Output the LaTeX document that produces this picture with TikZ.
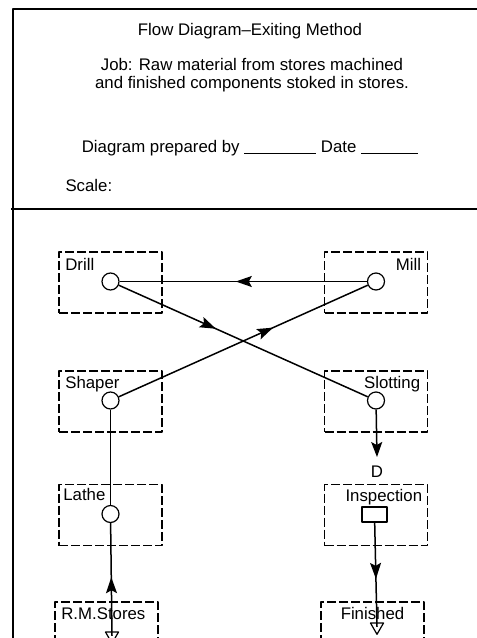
\documentclass[tikz,border=0pt]{standalone}
\usepackage{fontspec}
\setmainfont{Liberation Sans}
\usetikzlibrary{arrows.meta,decorations.markings,shapes.geometric}

\tikzset{
	opbox/.style={draw, dash pattern=on 9pt off 3pt, line width=1.7pt, minimum width=103pt, minimum height=61pt, inner sep=0pt},
	opcirc/.style={draw, circle, line width=1.2pt, minimum size=17pt, inner sep=0pt},
	inspbox/.style={draw, rectangle, line width=1.2pt, minimum width=25pt, minimum height=15pt, inner sep=0pt},
	storetri/.style={draw, regular polygon, regular polygon sides=3, shape border rotate=180, line width=1.2pt, minimum size=15pt, inner sep=0pt},
	lbl/.style={inner sep=1pt},
	flow/.style={line width=1.5pt},
	midarrow/.style={postaction={decorate}, decoration={markings, mark=at position #1 with {\arrow{Stealth[length=16pt,width=11pt,inset=3pt]}}}}
}

\begin{document}
\begin{tikzpicture}[x=1pt, y=-1pt, >={Stealth[length=15pt,width=11pt,inset=3pt]}, font=\fontsize{16.8}{18}\selectfont, line join=round]

	\useasboundingbox (0,0) rectangle (477,638);
	\clip (0,0) rectangle (477,638);

	% Khung ngoai va duong ke ngang
	\draw[line width=2pt] (13,700) -- (13,9) -- (500,9);
	\draw[line width=1.8pt] (11,209) -- (500,209);

	% Phan tieu de
	\node (title) at (250,31) {Flow Diagram–Exiting Method};
	\node[align=center] (job) at (252,75) {Job: Raw material from stores machined\\and finished components stoked in stores.};
	\node (prepared) at (250,148) {Diagram prepared by \rule[-2pt]{72pt}{0.9pt} Date \rule[-2pt]{57pt}{0.9pt}};
	\node[anchor=west] (scale) at (62,185) {Scale:};

	% Cac o may (net dut)
	\node[opbox] (drill) at (110.5,282.5) {};
	\node[opbox] (mill) at (376,282.5) {};
	\node[opbox] (shaper) at (110.5,401.5) {};
	\node[opbox] (slotting) at (376,401.5) {};
	\node[opbox] (lathe) at (110.5,515) {};
	\node[opbox] (inspection) at (376,515) {};
	\node[opbox] (rmstores) at (106.5,632.5) {};
	\node[opbox] (finished) at (372.5,632.5) {};

	% Nhan cac o
	\node[lbl, anchor=north west] (drilllbl) at ([xshift=6pt,yshift=-6pt]drill.north west) {Drill};
	\node[lbl, anchor=north east] (milllbl) at ([xshift=-6pt,yshift=-6pt]mill.north east) {Mill};
	\node[lbl, anchor=north west] (shaperlbl) at ([xshift=6pt,yshift=-5pt]shaper.north west) {Shaper};
	\node[lbl, anchor=north east] (slottinglbl) at ([xshift=-7pt,yshift=-5pt]slotting.north east) {Slotting};
	\node[lbl, anchor=north west] (lathelbl) at ([xshift=4pt,yshift=-3pt]lathe.north west) {Lathe};
	\node[lbl, anchor=north east] (inspectionlbl) at ([xshift=-5pt,yshift=-4pt]inspection.north east) {Inspection};
	\node[lbl, anchor=north west] (rmstoreslbl) at ([xshift=6pt,yshift=-5pt]rmstores.north west) {R.M.Stores};
	\node[lbl, anchor=north] (finishedlbl) at ([yshift=-5pt]finished.north) {Finished};

	% Cac nguyen cong
	\foreach \m in {drill, mill, shaper, slotting, lathe} {
		\node[opcirc] (\m op) at ([yshift=1pt]\m.center) {};
	}
	\node[inspbox] (inspectionop) at (374.5,514.5) {};
	\node[storetri] (rmtri) at (112,635.8) {};
	\node[storetri] (fintri) at (377,626.8) {};

	\coordinate (dtip) at (377,457);
	\node (delay) at (377,472) {D};

	% Duong di chuyen
	\draw[flow, midarrow=0.53] (millop) -- (drillop);
	\draw[flow, midarrow=0.39] (drillop) -- (slottingop);
	\draw[flow, midarrow=0.62] (shaperop) -- (millop);
	\draw[flow, ->] (slottingop) -- (dtip);
	\draw[flow, midarrow=0.52] (rmtri.center) -- (latheop);
	\draw[flow] (latheop) -- (shaperop);
	\draw[flow, midarrow=0.54] (inspectionop) -- (fintri.center);

\end{tikzpicture}
\end{document}
